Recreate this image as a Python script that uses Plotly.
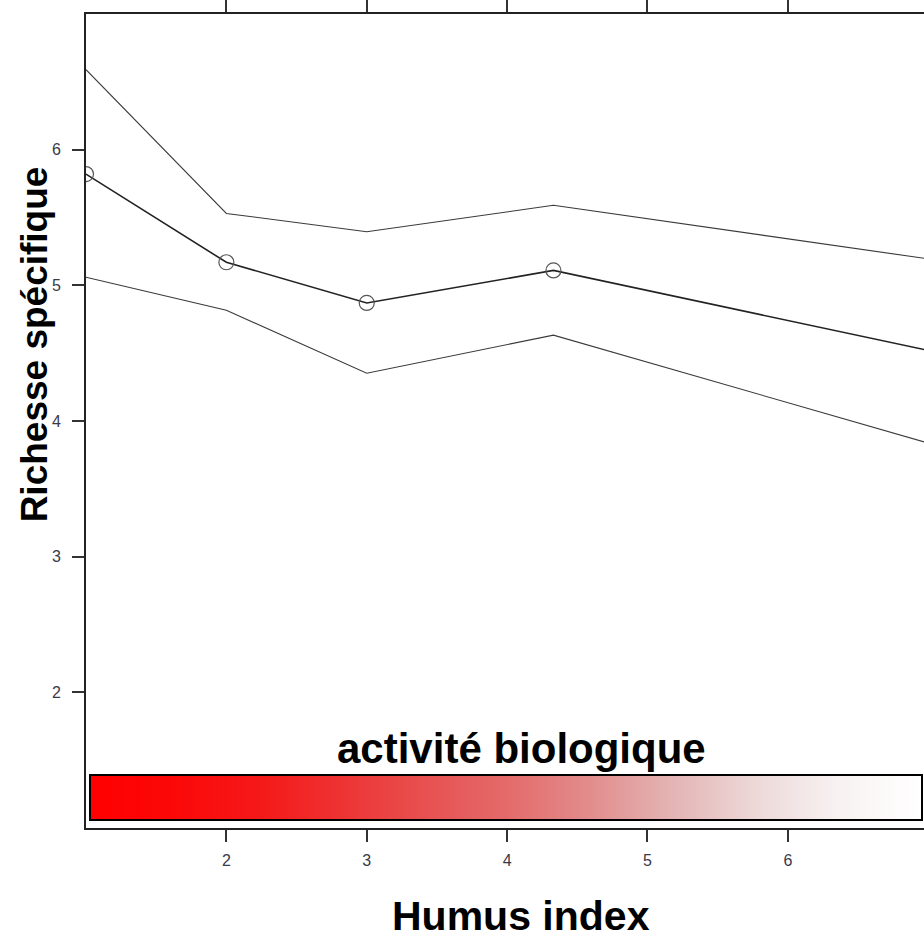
import plotly.graph_objects as go

# ---- data ----
humus_index = [1, 2, 3, 4.33, 7]
richesse_fit = [5.82, 5.17, 4.87, 5.11, 4.52]
richesse_upper = [6.59, 5.53, 5.395, 5.59, 5.195]
richesse_lower = [5.06, 4.816, 4.352, 4.633, 3.837]

x_ticks = [2, 3, 4, 5, 6]
y_ticks = [2, 3, 4, 5, 6]

colorbar_title = "activité biologique"
x_title = "Humus index"
y_title = "Richesse spécifique"

# red -> white ramp of the "activité biologique" bar
ramp_stops = [0.0, 0.1, 0.2, 0.3, 0.4, 0.5, 0.6, 0.7, 0.8, 0.9, 1.0]
ramp_colors = ["#FF0000", "#FC0808", "#F51818", "#EE3232", "#E85050", "#E46A6A",
               "#E28C8C", "#E4B4B4", "#EDD8D8", "#F8F2F2", "#FFFFFF"]

FONT = "Liberation Sans, Arial, Helvetica, sans-serif"

fig = go.Figure()

fig.add_trace(go.Scatter(x=humus_index, y=richesse_upper, mode="lines",
                         line=dict(color="#3a3a3a", width=1.1), showlegend=False))
fig.add_trace(go.Scatter(x=humus_index, y=richesse_lower, mode="lines",
                         line=dict(color="#3a3a3a", width=1.1), showlegend=False))
# circles only on the visible observation points (last point lies off the cropped edge)
marker_opacity = [1 if x < 6.9 else 0 for x in humus_index]
fig.add_trace(go.Scatter(x=humus_index, y=richesse_fit, mode="lines+markers",
                         line=dict(color="#222222", width=1.6),
                         marker=dict(symbol="circle-open", size=15, opacity=marker_opacity,
                                     color="#555555", line=dict(width=1.2, color="#555555")),
                         showlegend=False))

# dummy trace carrying the colour bar
fig.add_trace(go.Scatter(
    x=[None], y=[None], mode="markers", showlegend=False, hoverinfo="skip",
    marker=dict(
        color=[0], cmin=0, cmax=1,
        colorscale=[[s, c] for s, c in zip(ramp_stops, ramp_colors)],
        showscale=True,
        colorbar=dict(
            orientation="h", x=0.5017, xanchor="center",
            y=0.0073, yanchor="bottom",
            len=0.9925, lenmode="fraction",
            thickness=45, thicknessmode="pixels",
            xpad=0, ypad=0,
            outlinewidth=2, outlinecolor="black",
            showticklabels=False, ticks="",
            bgcolor="rgba(0,0,0,0)", borderwidth=0,
        ),
    ),
))

fig.update_layout(
    width=924, height=938,
    margin=dict(l=86, r=0, t=10, b=110),
    paper_bgcolor="white", plot_bgcolor="white",
    font=dict(family=FONT, color="#444444"),
    annotations=[
        dict(text="<b>%s</b>" % colorbar_title, xref="paper", yref="paper",
             x=0.520, y=0.0978, xanchor="center", yanchor="middle", showarrow=False,
             font=dict(family=FONT, size=42, color="black")),
        dict(text="<b>%s</b>" % x_title, xref="paper", yref="paper",
             x=0.519, y=-0.1076, xanchor="center", yanchor="middle", showarrow=False,
             font=dict(family=FONT, size=41, color="black")),
        dict(text="<b>%s</b>" % y_title, xref="paper", yref="paper",
             x=-0.061, y=0.594, xanchor="center", yanchor="middle", showarrow=False,
             textangle=-90, font=dict(family=FONT, size=37, color="black")),
    ],
)

fig.update_xaxes(
    range=[1, 6.97], tickvals=x_ticks, ticktext=[str(v) for v in x_ticks],
    showgrid=False, zeroline=False,
    showline=True, linecolor="#222222", linewidth=2, mirror="ticks",
    ticks="outside", ticklen=12, tickwidth=1.5, tickcolor="#333333",
    ticklabelstandoff=5,
    tickfont=dict(family=FONT, size=16, color="#3a3a4a"),
)
fig.update_yaxes(
    range=[1, 7], tickvals=y_ticks, ticktext=[str(v) for v in y_ticks],
    showgrid=False, zeroline=False,
    showline=True, linecolor="#222222", linewidth=2, mirror=False,
    ticks="outside", ticklen=12, tickwidth=1.5, tickcolor="#333333",
    ticklabelstandoff=8,
    tickfont=dict(family=FONT, size=16, color="#3a3a4a"),
)

fig.write_html(
    "out.html",
    config={"displayModeBar": False},
    post_script="document.body.style.margin='0';document.body.style.padding='0';"
                "document.body.style.overflow='hidden';",
)
